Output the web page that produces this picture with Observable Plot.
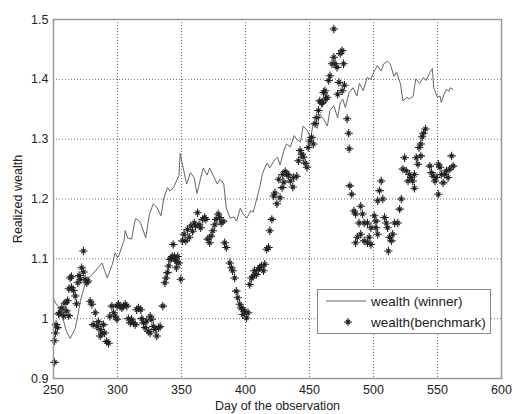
<!DOCTYPE html>
<html>
<head>
<meta charset="utf-8">
<script src="https://cdn.jsdelivr.net/npm/d3@7"></script>
<script src="https://cdn.jsdelivr.net/npm/@observablehq/plot@0.6"></script>
<style>
  body { margin: 0; background: #fff; font-family: "Liberation Sans", Arial, sans-serif; }
  #wrap { position: relative; width: 513px; height: 414px; }
  #legend { position: absolute; left: 317px; top: 289px; width: 172px; height: 43px;
            border: 1px solid #888; background: #fff; font-size: 13.5px; color: #222; }
  .row { position: absolute; left: 8px; height: 16px; display: flex; align-items: center; }
  .row svg { margin-right: 5px; }
</style>
</head>
<body>
<div id="wrap"></div>
<script>
const xTicks = [250, 300, 350, 400, 450, 500, 550, 600];
const yTicks = [0.9, 1.0, 1.1, 1.2, 1.3, 1.4, 1.5];
const seriesNames = ["wealth (winner)", "wealth(benchmark)"];

const winnerDay = [250,252,254,256,258,260,263,265,267,269,271,273,275,277,279,282,284,286,288,290,292,294,296,298,300,301,303,305,306,308,311,314,316,318,320,322,325,328,331,334,336,339,341,344,346,348,349,351,354,357,360,362,365,367,370,372,375,378,380,383,385,388,391,393,396,398,401,404,406,409,411,413,415,417,419,422,425,427,430,432,435,438,440,443,445,448,451,453,456,458,461,464,466,469,472,474,476,478,481,484,487,489,492,495,498,500,503,506,508,511,513,516,518,521,523,526,528,531,533,536,539,541,544,546,547,550,552,553,555,557,559,560,562];
const winnerWealth = [1.033,1.025,1.02,1.008,0.995,0.979,0.967,0.975,0.984,1.005,1.03,1.045,1.06,1.066,1.071,1.078,1.083,1.088,1.093,1.08,1.068,1.08,1.091,1.11,1.102,1.105,1.118,1.13,1.147,1.135,1.133,1.167,1.165,1.16,1.148,1.135,1.175,1.192,1.185,1.172,1.2,1.219,1.213,1.22,1.23,1.239,1.276,1.255,1.225,1.244,1.235,1.209,1.235,1.252,1.24,1.252,1.238,1.225,1.233,1.225,1.185,1.168,1.17,1.163,1.185,1.175,1.168,1.18,1.178,1.202,1.219,1.24,1.252,1.26,1.252,1.263,1.27,1.257,1.281,1.292,1.287,1.306,1.3,1.295,1.322,1.315,1.302,1.328,1.318,1.342,1.333,1.322,1.348,1.356,1.336,1.361,1.367,1.353,1.378,1.386,1.372,1.393,1.381,1.403,1.4,1.411,1.423,1.414,1.426,1.43,1.426,1.405,1.412,1.393,1.364,1.37,1.367,1.372,1.401,1.393,1.403,1.398,1.411,1.418,1.386,1.37,1.372,1.361,1.375,1.383,1.38,1.386,1.383];

const benchDay = [250.8,250.8,251.5,252,253,254,255,256.5,258,259,260,261,262,262,263,264,264,265.6,267,268,269,270,271,272,273.4,273.5,274.7,276,277,278.6,280,281,282.6,284,285,286.5,286.5,288,289,290,291.5,293,294,295.6,297,298,299.6,299.6,300.8,302,303.4,304.7,306,307.3,308.5,310,311,312.5,313.8,315,316.4,318.2,319,320.3,321.6,322.9,324,325.5,325.5,326.8,328,329.4,330.7,332,333.3,335.4,337,338,339,340,341,342,342.7,343.5,344.5,345,346,346,347,348,349.5,350.8,352,353.4,354.7,356,357.3,358.6,360,361,362.5,363.8,365,366.5,368,369,370.5,372,373,374.5,376,377,378.6,380,381,382.5,383.7,385,387.7,389,390,391.5,392.8,394,395.5,396.8,398,398,399.4,400.7,402,403.3,404.6,406,407,408.6,410,411,412.5,414,415,416.5,418,419,420.6,422,423,424.5,426,427,428.6,429,430,431,432.5,433.5,435,437.4,437,440,441.4,442.7,444,445,446.6,448,449,450.3,451.6,453,454.3,455.6,457,458,459.5,460,461,462,462.6,463.6,465,466,467.6,469,469,470,471.5,472,473,474,475.5,475.5,476.6,477.3,479.4,480.6,481,481.5,483,484.7,486,486,487.4,488.7,490,490,491.4,492.7,492.7,495.3,495.3,496.6,498,498,500.6,502,502,503.3,503.3,504.7,506,507.3,508.6,510,511,511.6,512.5,514,515,516.5,519,520.4,521.7,523,524.3,525.6,527,528,529.4,530.7,532,532,533.4,534.7,535.6,537,537,538,539,540.6,544,545.3,546.6,548,549,550.6,550.6,552,553,554.4,555.7,557,558.3,559.6,561,562.2];
const benchWealth = [0.963,0.927,0.976,0.99,0.985,1.008,1.01,1.018,1.005,1.026,1.013,1.03,1.005,1.05,1.068,1.052,1.07,1.047,1.038,1.025,1.06,1.072,1.066,1.085,1.113,1.078,1.066,1.06,1.063,1.029,1.024,0.99,1.01,0.987,0.995,0.982,0.971,0.976,0.99,0.976,0.962,0.959,1.004,1.021,1.01,1.004,0.999,1.021,1.024,1.021,1.018,1.021,1.024,1.021,1.0,0.993,0.999,0.993,0.99,1.015,1.018,1.015,1.0,0.993,0.985,0.996,0.979,1.004,0.976,0.999,0.987,0.982,0.971,0.985,0.987,1.021,1.06,1.068,1.077,1.088,1.099,1.101,1.104,1.124,1.104,1.099,1.085,1.096,1.104,1.093,1.066,1.13,1.141,1.13,1.149,1.136,1.155,1.146,1.16,1.155,1.177,1.157,1.152,1.166,1.169,1.166,1.133,1.127,1.138,1.147,1.157,1.166,1.175,1.169,1.16,1.163,1.127,1.119,1.093,1.085,1.08,1.068,1.046,1.035,1.024,1.018,1.015,1.007,1.012,1.001,1.01,1.057,1.068,1.071,1.08,1.074,1.082,1.085,1.088,1.08,1.091,1.116,1.119,1.147,1.166,1.205,1.21,1.192,1.233,1.202,1.219,1.241,1.228,1.246,1.241,1.24,1.23,1.236,1.22,1.238,1.264,1.281,1.275,1.27,1.26,1.253,1.286,1.297,1.303,1.292,1.326,1.336,1.348,1.364,1.36,1.361,1.378,1.381,1.367,1.37,1.398,1.406,1.426,1.437,1.484,1.426,1.42,1.375,1.395,1.443,1.448,1.381,1.426,1.39,1.334,1.31,1.284,1.222,1.208,1.18,1.175,1.127,1.136,1.16,1.188,1.141,1.175,1.16,1.13,1.127,1.16,1.136,1.124,1.152,1.172,1.163,1.152,1.197,1.141,1.214,1.23,1.2,1.169,1.16,1.152,1.113,1.136,1.13,1.141,1.16,1.16,1.183,1.2,1.25,1.269,1.247,1.23,1.241,1.236,1.23,1.218,1.241,1.269,1.258,1.286,1.292,1.272,1.304,1.31,1.317,1.255,1.244,1.238,1.23,1.236,1.258,1.208,1.253,1.241,1.227,1.241,1.247,1.236,1.25,1.272,1.255];

const winner = winnerDay.map((d, i) => ({day: d, wealth: winnerWealth[i]}));
const bench = benchDay.map((d, i) => ({day: d, wealth: benchWealth[i]}));

// MATLAB-like '*' marker: plus with shorter diagonals
const star = {
  draw(ctx, size) {
    const r = Math.sqrt(size / Math.PI);
    const d = r * 0.5;
    ctx.moveTo(-r, 0); ctx.lineTo(r, 0);
    ctx.moveTo(0, -r); ctx.lineTo(0, r);
    ctx.moveTo(-d, -d); ctx.lineTo(d, d);
    ctx.moveTo(-d, d); ctx.lineTo(d, -d);
  }
};

const fmt = d => String(+d.toFixed(1));

const chart = Plot.plot({
  width: 513,
  height: 414,
  marginLeft: 53,
  marginRight: 12,
  marginTop: 19,
  marginBottom: 36,
  style: {fontFamily: "'Liberation Sans', Arial, sans-serif", fontSize: "12.5px", color: "#222", background: "#fff"},
  x: {domain: [250, 600]},
  y: {domain: [0.9, 1.5]},
  marks: [
    Plot.gridX(xTicks, {stroke: "#555", strokeOpacity: 0.85, strokeDasharray: "1,2"}),
    Plot.gridY(yTicks, {stroke: "#555", strokeOpacity: 0.85, strokeDasharray: "1,2"}),
    Plot.axisX({ticks: xTicks, tickSize: 0, tickPadding: 7, label: "Day of the observation", labelAnchor: "center", labelArrow: "none", labelOffset: 31, fontSize: 12.5}),
    Plot.axisY({ticks: yTicks, tickSize: 0, tickPadding: 5, tickFormat: fmt, label: "Realized wealth", labelAnchor: "center", labelArrow: "none", labelOffset: 40, fontSize: 12.5}),
    Plot.line(winner, {x: "day", y: "wealth", stroke: "#666", strokeWidth: 1}),
    Plot.dot(bench, {x: "day", y: "wealth", symbol: star, r: 4.2, stroke: "#222", strokeWidth: 1.1, fill: "none"}),
    Plot.frame({stroke: "#999", strokeWidth: 1.5})
  ]
});

const wrap = document.getElementById("wrap");
wrap.appendChild(chart);

const legend = document.createElement("div");
legend.id = "legend";
legend.innerHTML = `
  <div class="row" style="top:3px"><svg width="40" height="10"><line x1="0" y1="5" x2="40" y2="5" stroke="#666" stroke-width="1"/></svg><span>${seriesNames[0]}</span></div>
  <div class="row" style="top:24px"><svg width="40" height="10"><g transform="translate(22,5)" stroke="#222" stroke-width="1.1"><path d="M-4,0L4,0M0,-4L0,4M-2,-2L2,2M-2,2L2,-2"/></g></svg><span>${seriesNames[1]}</span></div>`;
wrap.appendChild(legend);
</script>
</body>
</html>
